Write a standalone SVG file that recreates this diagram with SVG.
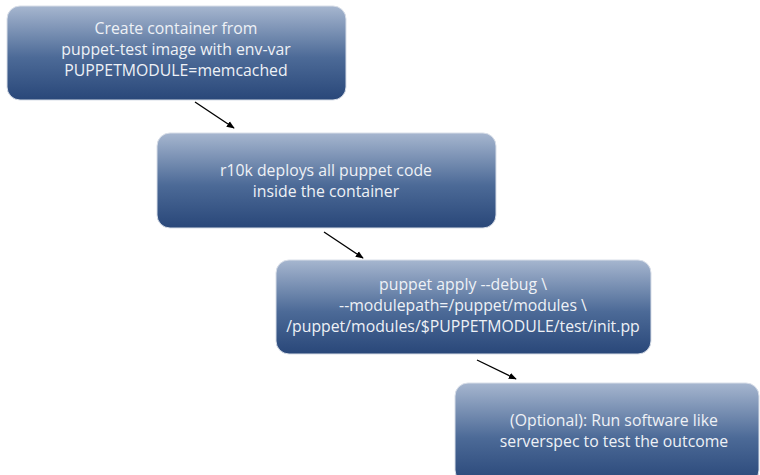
<svg xmlns="http://www.w3.org/2000/svg" width="760" height="475" viewBox="0 0 760 475">
<style>
.box{fill:url(#g);stroke:#d8dee8;stroke-width:1}
.t{font-family:"Open Sans","Noto Sans",sans-serif;font-size:15.8px;fill:#eef1f6;text-anchor:middle}
.c{stroke:#000;stroke-width:1.3;fill:none;marker-end:url(#ah)}
</style>
<defs>
<linearGradient id="g" x1="0" y1="0" x2="0" y2="1">
<stop offset="0" stop-color="#a6b6cf"/>
<stop offset="0.55" stop-color="#4c6a97"/>
<stop offset="1" stop-color="#294779"/>
</linearGradient>
<marker id="ah" viewBox="0 0 10 10" refX="9" refY="5" markerWidth="8" markerHeight="8" orient="auto" markerUnits="userSpaceOnUse">
<path d="M0,1 L10,5 L0,9 Z" fill="#000"/>
</marker>
</defs>
<g id="n1"><rect class="box" x="7" y="6" width="339" height="94" rx="13"/>
<text class="t" x="176" y="34">Create container from</text>
<text class="t" x="176" y="55">puppet-test image with env-var</text>
<text class="t" x="176" y="76">PUPPETMODULE=memcached</text></g>
<g id="n2"><rect class="box" x="157" y="133" width="339" height="95" rx="13"/>
<text class="t" x="326" y="176">r10k deploys all puppet code</text>
<text class="t" x="326" y="197">inside the container</text></g>
<g id="n3"><rect class="box" x="276" y="260" width="375" height="94" rx="13"/>
<text class="t" x="463" y="290">puppet apply --debug \</text>
<text class="t" x="463" y="311">--modulepath=/puppet/modules \</text>
<text class="t" x="463" y="332">/puppet/modules/$PUPPETMODULE/test/init.pp</text></g>
<g id="n4"><rect class="box" x="455" y="383" width="304" height="100" rx="13"/>
<text class="t" x="614" y="426">(Optional): Run software like</text>
<text class="t" x="614" y="447">serverspec to test the outcome</text></g>
<g id="connectors">
<line class="c" x1="195" y1="102" x2="234" y2="128"/>
<line class="c" x1="324" y1="232" x2="363" y2="258"/>
<line class="c" x1="477" y1="360" x2="516" y2="379"/>
</g>
</svg>
